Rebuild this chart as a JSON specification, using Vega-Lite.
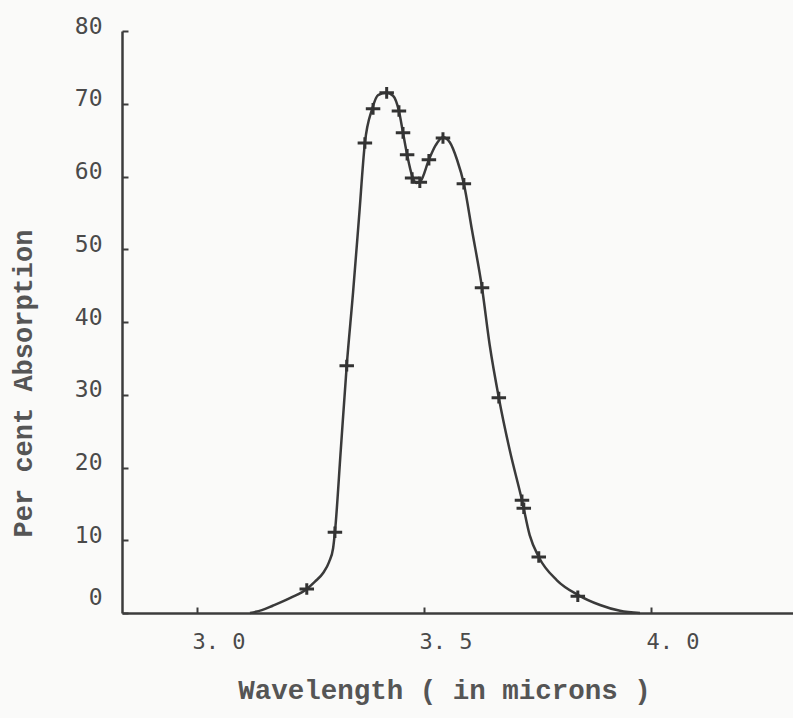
{
  "$schema": "https://vega.github.io/schema/vega-lite/v6.json",
  "autosize": {"type": "none"},
  "padding": {"left": 122, "top": 31, "right": 0, "bottom": 105},
  "width": 671,
  "height": 582,
  "background": "#fafaf9",
  "config": {
    "view": {"stroke": null},
    "axis": {
      "domainColor": "#3c3c3c",
      "domainWidth": 2.5,
      "tickColor": "#3c3c3c",
      "tickWidth": 2,
      "labelColor": "#4a4a4a",
      "titleColor": "#555555",
      "labelFont": "DejaVu Sans Mono",
      "titleFont": "Liberation Mono",
      "titleFontWeight": "bold",
      "grid": false
    }
  },
  "datasets": {
    "curve": [
      {"w": 3.117, "a": 0.0},
      {"w": 3.143, "a": 0.4},
      {"w": 3.167, "a": 1.0},
      {"w": 3.207, "a": 2.1},
      {"w": 3.242, "a": 3.3},
      {"w": 3.260, "a": 4.3},
      {"w": 3.278, "a": 5.5},
      {"w": 3.291, "a": 7.0},
      {"w": 3.300, "a": 8.9},
      {"w": 3.304, "a": 11.1},
      {"w": 3.317, "a": 22.5},
      {"w": 3.330, "a": 34.0},
      {"w": 3.344, "a": 44.1},
      {"w": 3.357, "a": 54.3},
      {"w": 3.370, "a": 64.6},
      {"w": 3.386, "a": 69.3},
      {"w": 3.399, "a": 71.2},
      {"w": 3.418, "a": 71.5},
      {"w": 3.432, "a": 71.1},
      {"w": 3.445, "a": 69.0},
      {"w": 3.454, "a": 66.0},
      {"w": 3.463, "a": 63.0},
      {"w": 3.474, "a": 60.1},
      {"w": 3.483, "a": 59.1},
      {"w": 3.493, "a": 59.4},
      {"w": 3.511, "a": 62.3},
      {"w": 3.526, "a": 64.3},
      {"w": 3.542, "a": 65.4},
      {"w": 3.557, "a": 64.7},
      {"w": 3.573, "a": 62.3},
      {"w": 3.588, "a": 59.0},
      {"w": 3.606, "a": 52.6},
      {"w": 3.628, "a": 44.7},
      {"w": 3.645, "a": 36.8},
      {"w": 3.665, "a": 29.6},
      {"w": 3.689, "a": 22.4},
      {"w": 3.716, "a": 15.5},
      {"w": 3.733, "a": 10.7},
      {"w": 3.753, "a": 7.7},
      {"w": 3.793, "a": 4.5},
      {"w": 3.839, "a": 2.5},
      {"w": 3.888, "a": 1.1},
      {"w": 3.932, "a": 0.3},
      {"w": 3.976, "a": 0.0}
    ],
    "marks": [
      {"w": 3.242, "a": 3.3},
      {"w": 3.304, "a": 11.1},
      {"w": 3.330, "a": 34.0},
      {"w": 3.370, "a": 64.6},
      {"w": 3.388, "a": 69.3},
      {"w": 3.418, "a": 71.5},
      {"w": 3.445, "a": 69.0},
      {"w": 3.454, "a": 66.0},
      {"w": 3.463, "a": 63.0},
      {"w": 3.474, "a": 59.8},
      {"w": 3.491, "a": 59.2},
      {"w": 3.511, "a": 62.3},
      {"w": 3.542, "a": 65.3},
      {"w": 3.588, "a": 59.0},
      {"w": 3.628, "a": 44.7},
      {"w": 3.665, "a": 29.6},
      {"w": 3.716, "a": 15.5},
      {"w": 3.720, "a": 14.4},
      {"w": 3.753, "a": 7.7},
      {"w": 3.839, "a": 2.3}
    ]
  },
  "layer": [
    {
      "mark": {"type": "rule", "color": "#3c3c3c", "strokeWidth": 2.5},
      "encoding": {
        "y": {"datum": 80, "type": "quantitative", "scale": {"domain": [0, 80]}}
      }
    },
    {
      "data": {"name": "curve"},
      "mark": {"type": "line", "interpolate": "monotone", "color": "#3a3a3a", "strokeWidth": 2.5},
      "encoding": {
        "x": {
          "field": "w", "type": "quantitative",
          "scale": {"domain": [2.835, 4.313], "nice": false, "zero": false},
          "axis": {
            "values": [3.0, 3.5, 4.0],
            "format": ".1f",
            "labelExpr": "replace(datum.label, '.', '. ')",
            "tickSize": -6,
            "labelPadding": 24,
            "labelFontSize": 22,
            "labelAlign": "left",
            "labelOffset": -5,
            "title": "Wavelength ( in microns )",
            "titleFontSize": 27.5,
            "titleX": 322,
            "titleY": 77,
            "titleBaseline": "middle",
            "titleAlign": "center"
          }
        },
        "y": {
          "field": "a", "type": "quantitative",
          "scale": {"domain": [0, 80], "nice": false},
          "axis": {
            "values": [0, 10, 20, 30, 40, 50, 60, 70, 80],
            "tickSize": -6,
            "labelPadding": 26,
            "labelFontSize": 23,
            "labelOffset": {"condition": {"test": "datum.value === 0", "value": -16}, "value": -5},
            "title": "Per cent Absorption",
            "titleFontSize": 27,
            "titleAngle": -90,
            "titleX": -99,
            "titleY": 352,
            "titleAlign": "center",
            "titleBaseline": "middle"
          }
        }
      }
    },
    {
      "data": {"name": "marks"},
      "mark": {"type": "point", "shape": "M-1,0H1M0,-0.8V0.8", "filled": false, "size": 210, "strokeWidth": 3, "color": "#333333", "opacity": 1},
      "encoding": {
        "x": {"field": "w", "type": "quantitative"},
        "y": {"field": "a", "type": "quantitative"}
      }
    }
  ]
}
